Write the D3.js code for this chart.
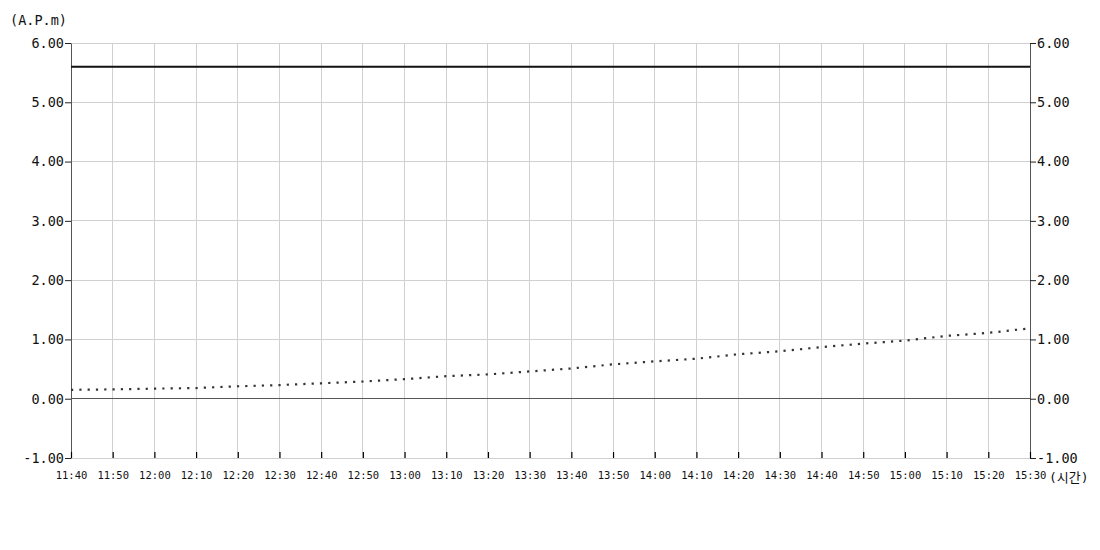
<!DOCTYPE html>
<html><head><meta charset="utf-8">
<script src="https://cdn.jsdelivr.net/npm/d3@7"></script>
<style>body{margin:0;background:#fff}svg{display:block}</style>
</head><body>
<svg id="c" width="1100" height="550"></svg>
<script>
const xTickLabels = ["11:40","11:50","12:00","12:10","12:20","12:30","12:40","12:50","13:00","13:10","13:20","13:30","13:40","13:50","14:00","14:10","14:20","14:30","14:40","14:50","15:00","15:10","15:20","15:30"];
const yTickValues = [-1,0,1,2,3,4,5,6];
const seriesTimes = ["11:40","11:50","12:00","12:10","12:20","12:30","12:40","12:50","13:00","13:10","13:20","13:30","13:40","13:50","14:00","14:10","14:20","14:30","14:40","14:50","15:00","15:10","15:20","15:29"];
const seriesValues = [0.15,0.157,0.17,0.18,0.21,0.23,0.26,0.29,0.33,0.38,0.41,0.46,0.51,0.58,0.63,0.675,0.75,0.80,0.87,0.93,0.98,1.06,1.11,1.18];
const limitValue = 5.6;
const yLabel = "(A.P.m)";
const xLabel = "(시간)";

const toMin = s => { const [h,m] = s.split(":").map(Number); return h*60+m; };
const svg = d3.select("#c");
const L = 71, R = 1030, T = 43, B = 458;
const font = "'DejaVu Sans Mono','Noto Sans CJK KR',monospace";

const x = d3.scaleLinear().domain([toMin(xTickLabels[0]), toMin(xTickLabels[xTickLabels.length-1])]).range([L, R]);
const y = d3.scaleLinear().domain([-1, 6]).range([B, T]);

// gridlines
svg.append("g").selectAll("line").data(xTickLabels).join("line")
  .attr("x1", d => x(toMin(d))).attr("x2", d => x(toMin(d)))
  .attr("y1", T).attr("y2", B).attr("stroke", "#d0d0d0").attr("stroke-width", 1)
  .attr("shape-rendering","crispEdges");
svg.append("g").selectAll("line").data(yTickValues).join("line")
  .attr("x1", L).attr("x2", R)
  .attr("y1", d => y(d)).attr("y2", d => y(d)).attr("stroke", "#d0d0d0").attr("stroke-width", 1)
  .attr("shape-rendering","crispEdges");

// zero line
svg.append("line").attr("x1", L).attr("x2", R).attr("y1", y(0)).attr("y2", y(0))
  .attr("stroke", "#555").attr("stroke-width", 1).attr("shape-rendering","crispEdges");

// axes
const fmt = d => d3.format(".2f")(d).replace("\u2212", "-");
const yl = svg.append("g").attr("transform", `translate(${L},0)`)
  .call(d3.axisLeft(y).tickValues(yTickValues).tickFormat(fmt).tickSize(6).tickSizeOuter(0));
const yr = svg.append("g").attr("transform", `translate(${R},0)`)
  .call(d3.axisRight(y).tickValues(yTickValues).tickFormat(fmt).tickSize(6).tickSizeOuter(0));
[yl, yr].forEach(g => {
  g.select(".domain").attr("stroke", "#555");
  g.selectAll(".tick line").attr("stroke", "#222");
  g.selectAll(".tick text").attr("font-family", font).attr("font-size", 13.5).attr("fill", "#111");
});
yl.selectAll(".tick text").attr("x", -7);
yr.selectAll(".tick text").attr("x", 7);

const xa = svg.append("g").attr("transform", `translate(0,${B})`)
  .call(d3.axisBottom(x).tickValues(xTickLabels.map(toMin)).tickFormat((d,i) => xTickLabels[i]).tickSize(-6).tickSizeOuter(0));
xa.select(".domain").remove();
xa.selectAll(".tick line").attr("stroke", "#000").attr("stroke-width", 1.2);
xa.selectAll(".tick text").attr("font-family", font).attr("font-size", 10.5).attr("fill", "#111").attr("y", 14);

// limit line
svg.append("line").attr("x1", L).attr("x2", R).attr("y1", y(limitValue)).attr("y2", y(limitValue))
  .attr("stroke", "#111").attr("stroke-width", 2);

// dotted series
const line = d3.line().x((d,i) => x(toMin(seriesTimes[i]))).y(d => y(d));
svg.append("path").datum(seriesValues).attr("d", line)
  .attr("fill", "none").attr("stroke", "#333").attr("stroke-width", 2.2)
  .attr("stroke-dasharray", "2.2,6.1");

// labels
svg.append("text").attr("x", 10).attr("y", 25).text(yLabel)
  .attr("font-family", font).attr("font-size", 13.5).attr("fill", "#111");
svg.append("text").attr("x", 1049).attr("y", 482).text(xLabel)
  .attr("font-family", font).attr("font-size", 13).attr("fill", "#111");
</script>
</body></html>
